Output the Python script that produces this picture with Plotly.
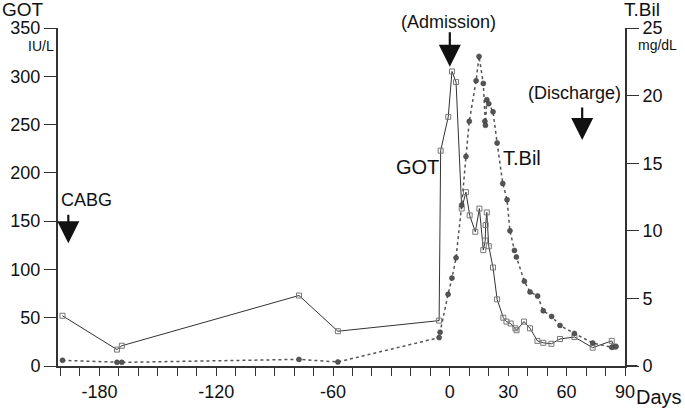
import plotly.graph_objects as go

# ---- data ----
got_days = [-199, -171, -168.5, -77.5, -57.5, -5.5, -4.7, -0.8, 1.1, 3.2, 6.1, 8.3, 10.2,
            13.1, 15.2, 17.2, 18.2, 18.4, 19, 20, 22.2, 24.3, 27.5, 29.1, 31.3, 33.7, 34.3,
            38.1, 41.2, 45, 48, 52.2, 56.6, 64, 73.4, 83.2, 84.4]
got_vals = [52, 17, 21, 73, 36, 47, 223, 258, 305, 294, 163, 180, 156,
            139, 163, 120, 130, 146, 159, 124, 102, 69, 50, 46, 44, 39, 37,
            46, 39, 26, 24, 23, 28, 30, 19, 26, 20]

tbil_days = [-199, -171, -168.5, -77.5, -57.5, -5.5, -5, -0.9, 1.1, 3.2, 6.1, 8.3, 10,
             13.5, 15, 17.2, 18.0, 18.3, 19, 20, 22.2, 24.3, 27.2, 29.4, 30.9, 33.2,
             34.2, 38.3, 41.2, 45.1, 48, 52.3, 56.6, 64, 73.4, 83.2, 85.4]
tbil_vals = [0.42, 0.27, 0.27, 0.49, 0.3, 2.1, 2.5, 5.3, 6.5, 8.0, 11.9, 15.5, 18.1,
             21.1, 22.9, 20.9, 18.1, 17.8, 19.7, 19.4, 18.8, 16.5, 13.5, 12.3, 10.0, 8.55,
             8.06, 6.27, 5.48, 5.18, 4.08, 3.67, 3.0, 2.41, 1.7, 1.38, 1.45]

x_tick_vals = list(range(-200, 91, 10))
x_labelled = {-180: "-180", -120: "-120", -60: "-60", 0: "0", 30: "30", 60: "60", 90: "90"}
x_tick_text = [x_labelled.get(v, "") for v in x_tick_vals]
got_ticks = [0, 50, 100, 150, 200, 250, 300, 350]
tbil_ticks = [0, 5, 10, 15, 20, 25]

FONT = "Liberation Sans, Arial, sans-serif"
TXT = "#111111"
AX = "#333333"
ML, MR, MT, MB = 58, 60, 28, 46
W, H = 685, 412

fig = go.Figure()
fig.add_trace(go.Scatter(
    x=tbil_days, y=tbil_vals, yaxis="y2", mode="lines+markers", name="T.Bil",
    line=dict(color="#555555", width=1.5, dash="3px,3px"),
    marker=dict(symbol="circle", size=5, color="#555555", line=dict(width=0.5, color="#333"))))
fig.add_trace(go.Scatter(
    x=got_days, y=got_vals, mode="lines+markers", name="GOT",
    line=dict(color="#333333", width=1),
    marker=dict(symbol="square-open", size=5, color="#777777", line=dict(width=1))))

fig.update_layout(
    width=W, height=H,
    margin=dict(l=ML, r=MR, t=MT, b=MB, autoexpand=False),
    paper_bgcolor="white", plot_bgcolor="white",
    showlegend=False,
    font=dict(family=FONT, size=18, color=TXT),
    xaxis=dict(range=[-201.3, 90], tickvals=x_tick_vals, ticktext=x_tick_text,
               ticks="outside", ticklen=8, tickwidth=1, tickcolor=AX, automargin=False,
               showline=True, linecolor=AX, linewidth=2, showgrid=False, zeroline=False,
               tickfont=dict(size=18)),
    yaxis=dict(range=[0, 350], tickvals=got_ticks, ticks="outside", ticklen=12,
               tickwidth=1, tickcolor=AX, showline=True, linecolor=AX, linewidth=2,
               showgrid=False, zeroline=False, tickfont=dict(size=18), automargin=False),
    yaxis2=dict(range=[0, 25], tickvals=tbil_ticks, overlaying="y", side="right",
                ticks="outside", ticklen=12, tickwidth=1, tickcolor=AX, automargin=False,
                showline=True, linecolor=AX, linewidth=2, showgrid=False,
                zeroline=False, tickfont=dict(size=18)),
)

# x axis line extending past right axis
fig.add_shape(type="line", xref="paper", yref="paper", x0=1, x1=1.022, y0=0, y1=0,
              line=dict(color=AX, width=2))

ann = []
PW, PH = W - ML - MR, H - MT - MB


def ptxt(px, py, s, size, xanchor="center"):
    # window pixel position -> paper coords
    ann.append(dict(xref="paper", yref="paper", x=(px - ML) / PW, y=(H - MB - py) / PH,
                    text=s, showarrow=False, font=dict(size=size, family=FONT, color=TXT),
                    xanchor=xanchor, yanchor="middle"))


ptxt(23, 10, "GOT", 19)
ptxt(41, 46, "IU/L", 14)
ptxt(642, 9, "T.Bil", 19)
ptxt(657, 45, "mg/dL", 14)
ptxt(659, 397, "Days", 20)
ptxt(448, 22, "(Admission)", 18)
ptxt(574, 93, "(Discharge)", 18)
ptxt(86, 200, "CABG", 18)
ptxt(417, 167, "GOT", 20)
ptxt(522, 158, "T.Bil", 20)

# arrows (data-referenced heads)
for (xd, yd, ay) in [(0, 310, -36), (68, 234, -34), (-196, 127, -30)]:
    ann.append(dict(x=xd, y=yd, xref="x", yref="y", text="", showarrow=True,
                    ax=0, ay=ay, arrowhead=2, arrowsize=2, arrowwidth=2.2,
                    arrowcolor="#111111"))

fig.update_layout(annotations=ann)
fig.write_html("out.html", config={"displayModeBar": False},
               post_script="document.body.style.margin='0px';document.body.style.padding='0px';")
